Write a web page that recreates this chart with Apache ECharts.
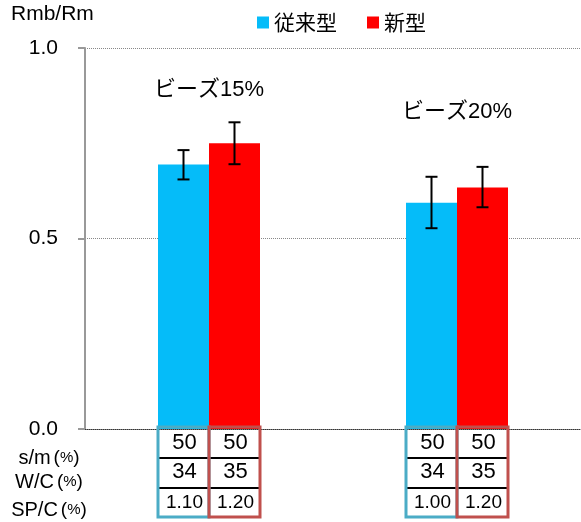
<!DOCTYPE html>
<html>
<head>
<meta charset="utf-8">
<script src="https://cdn.jsdelivr.net/npm/echarts@6/dist/echarts.min.js"></script>
<style>html,body{margin:0;padding:0;background:#fff}#c{width:581px;height:522px}</style>
</head>
<body>
<div id="c"></div>
<script>
// ---- data ----
const categories = ['ビーズ15%', 'ビーズ20%'];
const seriesNames = ['従来型', '新型'];
const conventional = [0.694, 0.594];
const newType = [0.750, 0.634];
const conventionalErrLow = [0.655, 0.527];
const conventionalErrHigh = [0.732, 0.662];
const newTypeErrLow = [0.695, 0.582];
const newTypeErrHigh = [0.805, 0.688];
const groupLabelHeights = [0.89, 0.832];
const rowLabelNames = ['s/m', 'W/C', 'SP/C'];
const conventionalSM = ['50', '50'];
const newTypeSM = ['50', '50'];
const conventionalWC = ['34', '34'];
const newTypeWC = ['35', '35'];
const conventionalSPC = ['1.10', '1.00'];
const newTypeSPC = ['1.20', '1.20'];
const yTickLabels = ['0.0', '0.5', '1.0'];

const FONT = "'Liberation Sans', 'Noto Sans CJK JP', sans-serif";
const BLUE = '#05BCF9';
const RED = '#FF0000';
const BAR_W = 51;

const chart = echarts.init(document.getElementById('c'), null, {renderer: 'canvas'});

function errRender(sign) {
  return function (params, api) {
    const i = api.value(0);
    const lo = api.coord([i, api.value(1)]);
    const hi = api.coord([i, api.value(2)]);
    const x = lo[0] + sign * BAR_W / 2;
    const style = {stroke: '#000', lineWidth: 2};
    return {
      type: 'group',
      children: [
        {type: 'line', shape: {x1: x, y1: lo[1], x2: x, y2: hi[1]}, style},
        {type: 'line', shape: {x1: x - 6, y1: lo[1], x2: x + 6, y2: lo[1]}, style},
        {type: 'line', shape: {x1: x - 6, y1: hi[1], x2: x + 6, y2: hi[1]}, style}
      ]
    };
  };
}

function tableRender(params, api) {
  const i = api.value(0);
  const base = api.coord([i, 0]);
  const cx = base[0], y0 = base[1];
  const band = api.size([1, 0])[0];
  const children = [];
  const top = y0 - 2, bottom = y0 + 88;
  const cols = [
    {x: cx - BAR_W, color: '#4BACC6', vals: [conventionalSM[i], conventionalWC[i], conventionalSPC[i]]},
    {x: cx, color: '#C0504D', vals: [newTypeSM[i], newTypeWC[i], newTypeSPC[i]]}
  ];
  [29, 59].forEach(function (dy) {
    children.push({type: 'line', shape: {x1: cx - BAR_W, y1: y0 + dy, x2: cx + BAR_W, y2: y0 + dy},
      style: {stroke: '#000', lineWidth: 2}});
  });
  cols.forEach(function (c) {
    children.push({type: 'rect', shape: {x: c.x, y: top, width: BAR_W, height: bottom - top},
      style: {fill: 'none', stroke: c.color, lineWidth: 3}});
    const ys = [14, 43, 74];
    const sizes = [22, 22, 19];
    c.vals.forEach(function (v, k) {
      children.push({type: 'text', x: c.x + BAR_W / 2 + 1, y: y0 + ys[k],
        style: {text: v, fontSize: sizes[k], fontFamily: FONT, fill: '#000', align: 'center', verticalAlign: 'middle'}});
    });
  });
  if (i === 0) {
    const left = cx - band / 2;
    const ly = [29, 53, 81];
    rowLabelNames.forEach(function (t, k) {
      children.push({type: 'text', x: left - 36, y: y0 + ly[k],
        style: {text: '{a|' + t + '}{p|(}{q|%}{p|)}', fontFamily: FONT, fill: '#000',
          align: 'center', verticalAlign: 'middle',
          rich: {
            a: {fontSize: 20, fontFamily: FONT, padding: [0, 3, 0, 0], verticalAlign: 'middle'},
            p: {fontSize: 19, fontFamily: FONT, verticalAlign: 'middle'},
            q: {fontSize: 15, fontFamily: FONT, verticalAlign: 'middle'}
          }}});
    });
  }
  return {type: 'group', children};
}

function groupLabelRender(params, api) {
  const p = api.coord([api.value(0), api.value(1)]);
  return {type: 'text', x: p[0], y: p[1],
    style: {text: categories[api.value(0)], fontSize: 22, fontFamily: FONT, fill: '#000', align: 'center', verticalAlign: 'middle'}};
}

const option = {
  animation: false,
  backgroundColor: '#fff',
  textStyle: {fontFamily: FONT},
  title: {text: 'Rmb/Rm', left: 11, top: 4, padding: 0,
    textStyle: {fontSize: 21, fontWeight: 'normal', color: '#000', fontFamily: FONT}},
  legend: {
    data: seriesNames, left: 257, top: 12, padding: 0, icon: 'rect', itemWidth: 12, itemHeight: 12, itemGap: 30,
    textStyle: {fontSize: 21, color: '#000', fontFamily: "'Noto Sans CJK JP', sans-serif"}
  },
  grid: {left: 85, top: 48, width: 500, bottom: 93, containLabel: false},
  xAxis: {
    type: 'category', data: categories,
    axisLabel: {show: false}, axisTick: {show: false},
    axisLine: {lineStyle: {color: '#333', type: 'dotted', width: 1}}
  },
  yAxis: {
    type: 'value', min: 0, max: 1, interval: 0.5,
    axisLine: {show: true, lineStyle: {color: '#999', width: 2}},
    axisTick: {show: true, length: 7, lineStyle: {color: '#999', width: 2}},
    axisLabel: {fontSize: 21, color: '#000', margin: 27, fontFamily: FONT,
      formatter: function (v) { return yTickLabels[Math.round(v * 2)]; }},
    splitLine: {show: true, lineStyle: {color: '#888', type: 'dotted', width: 1}}
  },
  series: [
    {name: seriesNames[0], type: 'bar', data: conventional, barWidth: BAR_W, barGap: '0%', itemStyle: {color: BLUE}},
    {name: seriesNames[1], type: 'bar', data: newType, barWidth: BAR_W, barGap: '0%', itemStyle: {color: RED}},
    {type: 'custom', name: 'err0', renderItem: errRender(-1), z: 5,
      encode: {x: 0, y: [1, 2]},
      data: categories.map(function (c, i) { return [i, conventionalErrLow[i], conventionalErrHigh[i]]; })},
    {type: 'custom', name: 'err1', renderItem: errRender(1), z: 5,
      encode: {x: 0, y: [1, 2]},
      data: categories.map(function (c, i) { return [i, newTypeErrLow[i], newTypeErrHigh[i]]; })},
    {type: 'custom', name: 'labels', renderItem: groupLabelRender, z: 5, clip: false,
      encode: {x: 0, y: 1},
      data: categories.map(function (c, i) { return [i, groupLabelHeights[i]]; })},
    {type: 'custom', name: 'table', renderItem: tableRender, z: 6, clip: false,
      encode: {x: 0, y: 1},
      data: categories.map(function (c, i) { return [i, 0]; })}
  ]
};
chart.setOption(option);
</script>
</body>
</html>
